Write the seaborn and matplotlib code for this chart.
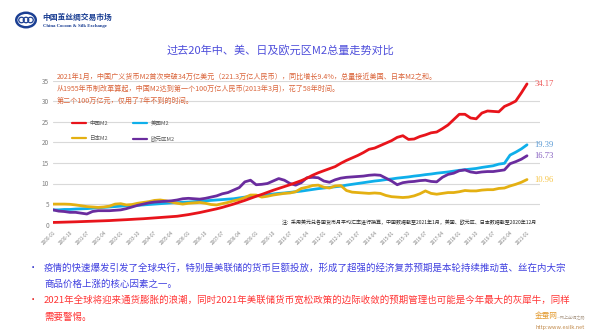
import numpy as np
import pandas as pd
import matplotlib
matplotlib.use("Agg")
import matplotlib.pyplot as plt
import seaborn as sns
from matplotlib.patches import Ellipse
from matplotlib.lines import Line2D

# ---------------- data (trillion USD, quarterly samples) ----------------
dates = pd.date_range("2000-01-01", "2021-01-01", freq="QS")

china_m2 = [0.55, 0.58, 0.62, 0.66, 0.70, 0.75, 0.80, 0.85, 0.90, 0.95,
            1.00, 1.08, 1.15, 1.22, 1.30, 1.38, 1.45, 1.55, 1.65, 1.75,
            1.85, 1.95, 2.05, 2.25, 2.45, 2.70, 2.95, 3.25, 3.55, 3.85,
            4.20, 4.60, 5.00, 5.45, 5.90, 6.40, 6.90, 7.35, 7.85, 8.35,
            8.80, 9.25, 9.70, 10.20, 10.70, 11.30, 12.00, 12.60, 13.10, 13.60,
            14.10, 14.90, 15.60, 16.20, 16.80, 17.50, 18.30, 18.60, 19.20, 19.80,
            20.40, 21.20, 21.60, 20.70, 20.80, 21.40, 21.80, 22.30, 22.50, 23.30,
            24.20, 25.50, 26.80, 26.80, 25.90, 25.70, 27.10, 27.60, 27.50, 27.40,
            28.70, 29.30, 30.00, 32.00, 34.17]

us_m2 = [3.60, 3.60, 3.70, 3.70, 3.80, 3.85, 3.90, 4.00, 4.10, 4.20,
         4.30, 4.40, 4.50, 4.60, 4.65, 4.70, 4.80, 4.90, 5.00, 5.10,
         5.20, 5.30, 5.35, 5.45, 5.50, 5.60, 5.70, 5.80, 5.90, 6.00,
         6.10, 6.20, 6.30, 6.50, 6.70, 6.85, 7.00, 7.15, 7.30, 7.45,
         7.60, 7.70, 7.85, 8.00, 8.15, 8.35, 8.55, 8.75, 8.90, 9.05,
         9.20, 9.35, 9.60, 9.80, 10.00, 10.20, 10.40, 10.60, 10.75, 10.95,
         11.10, 11.30, 11.45, 11.60, 11.80, 11.95, 12.15, 12.30, 12.50, 12.65,
         12.80, 13.00, 13.20, 13.35, 13.50, 13.65, 13.90, 14.10, 14.30, 14.70,
         14.90, 16.90, 17.60, 18.40, 19.39]

japan_m2 = [5.0, 5.0, 5.0, 4.95, 4.8, 4.6, 4.4, 4.3, 4.2, 4.3,
            4.5, 5.0, 5.1, 4.8, 4.9, 5.2, 5.4, 5.6, 5.9, 6.0,
            5.8, 5.5, 5.2, 5.0, 5.2, 5.3, 5.4, 5.2, 4.9, 4.8,
            5.1, 5.4, 5.8, 6.1, 6.6, 7.2, 7.2, 6.7, 6.9, 7.2,
            7.4, 7.6, 7.7, 8.0, 8.8, 9.1, 9.5, 9.6, 9.1, 8.9,
            9.4, 9.5, 8.3, 7.9, 7.8, 7.7, 7.6, 7.7, 7.6, 7.1,
            6.8, 6.7, 6.6, 6.7, 7.0, 7.5, 8.2, 7.6, 7.4, 7.6,
            7.8, 7.8, 8.0, 8.3, 8.2, 8.2, 8.4, 8.5, 8.5, 8.8,
            8.9, 9.4, 9.8, 10.3, 10.96]

euro_m2 = [3.6, 3.3, 3.2, 3.0, 3.0, 2.8, 2.6, 3.2, 3.4, 3.4,
           3.4, 3.5, 3.6, 3.9, 4.3, 4.7, 5.0, 5.3, 5.5, 5.6,
           5.7, 5.8, 6.0, 6.3, 6.4, 6.3, 6.2, 6.4, 6.7, 7.0,
           7.5, 7.8, 8.4, 9.0, 10.4, 10.8, 9.7, 9.8, 10.0, 10.6,
           11.2, 10.8, 10.0, 9.6, 10.2, 11.4, 11.5, 11.4, 10.6, 10.3,
           10.9, 11.3, 11.5, 11.6, 11.7, 11.8, 12.0, 12.1, 12.0, 11.3,
           10.6, 9.7, 10.2, 10.4, 10.5, 10.7, 10.8, 10.5, 10.4, 11.5,
           12.2, 12.5, 13.1, 13.3, 12.8, 12.6, 12.8, 12.9, 12.9, 13.1,
           13.3, 14.8, 15.3, 15.9, 16.73]

series_names = ["中国M2", "美国M2", "日本M2", "欧元区M2"]
end_labels = ["34.17", "19.39", "10.96", "16.73"]
x_tick_labels = ["2000-01", "2000-10", "2001-07", "2002-04", "2003-01", "2003-10",
                 "2004-07", "2005-04", "2006-01", "2006-10", "2007-07", "2008-04",
                 "2009-01", "2009-10", "2010-07", "2011-04", "2012-01", "2012-10",
                 "2013-07", "2014-04", "2015-01", "2015-10", "2016-07", "2017-04",
                 "2018-01", "2018-10", "2019-07", "2020-04", "2021-01"]
y_ticks = [0, 5, 10, 15, 20, 25, 30, 35]

title = "过去20年中、美、日及欧元区M2总量走势对比"
notes = ["2021年1月，中国广义货币M2首次突破34万亿美元（221.3万亿人民币），同比增长9.4%，总量接近美国、日本M2之和。",
         "从1955年币制改革算起，中国M2达到第一个100万亿人民币(2013年3月)，花了58年时间。",
         "第二个100万亿元，仅用了7年不到的时间。"]
footnote = "注：采用美元兑各国货币月平均汇率进行换算，中国数据截至2021年1月，美国、欧元区、日本数据截至2020年12月"
bullet1 = ["疫情的快速爆发引发了全球央行，特别是美联储的货币巨额投放，形成了超强的经济复苏预期是本轮持续推动茧、丝在内大宗",
           "商品价格上涨的核心因素之一。"]
bullet2 = ["2021年全球将迎来通货膨胀的浪潮，同时2021年美联储货币宽松政策的边际收敛的预期管理也可能是今年最大的灰犀牛，同样",
           "需要警惕。"]

# ---------------- style ----------------
sns.set_theme(style="white")
plt.rcParams["font.family"] = ["Noto Sans CJK SC", "DejaVu Sans"]

colors = {"中国M2": "#E8141B", "美国M2": "#0FAFEA", "日本M2": "#E4B012", "欧元区M2": "#6A2C9E"}
label_colors = {"中国M2": "#EE5A5A", "美国M2": "#5B9BD5", "日本M2": "#F7C64A", "欧元区M2": "#8660C0"}

W, H = 600, 336
fig = plt.figure(figsize=(W / 100, H / 100), dpi=100)
fig.patch.set_facecolor("white")


def fx(x):
    return x / W


def fy(y):
    return 1 - y / H


months = (dates.year - 2000) * 12 + dates.month - 1
df = pd.DataFrame({
    "month": np.tile(months, 4),
    "value": china_m2 + us_m2 + japan_m2 + euro_m2,
    "series": np.repeat(series_names, len(months)),
})

ax = fig.add_axes([fx(53), fy(224.7), fx(540) - fx(53), fy(80.5) - fy(224.7)])
draw_order = ["美国M2", "日本M2", "欧元区M2", "中国M2"]
sns.lineplot(data=df, x="month", y="value", hue="series", hue_order=draw_order,
             palette=colors, linewidth=2.0, legend=False, ax=ax)

ax.set_ylim(0, 35)
ax.set_xlim(0, 252 * (540 - 53) / (527 - 53))
ax.set_yticks(y_ticks)
ax.yaxis.grid(True, color="#D9D9D9", linewidth=0.8)
ax.xaxis.grid(False)
ax.set_axisbelow(True)
for s in ax.spines.values():
    s.set_visible(False)
ax.set_xlabel("")
ax.set_ylabel("")
ax.tick_params(axis="y", length=0, pad=3, labelsize=4.6, labelcolor="#808080")

tick_pos = [(int(s[:4]) - 2000) * 12 + int(s[5:]) - 1 for s in x_tick_labels]
ax.set_xticks(tick_pos)
ax.set_xticklabels(x_tick_labels, rotation=45, ha="right", rotation_mode="anchor",
                   fontsize=3.3, color="#808080")
ax.tick_params(axis="x", length=0, pad=4)

# end labels
ends = {"中国M2": china_m2, "美国M2": us_m2, "日本M2": japan_m2, "欧元区M2": euro_m2}
for name, lab in zip(series_names, end_labels):
    ax.annotate(lab, xy=(months[-1], ends[name][-1]), xytext=(5.5, 0),
                textcoords="offset points", ha="left", va="center",
                fontsize=6.2, color=label_colors[name], family="Liberation Serif",
                annotation_clip=False)

# legend
leg_order = ["中国M2", "日本M2", "美国M2", "欧元区M2"]
handles = [Line2D([], [], color=colors[n], lw=1.6) for n in leg_order]
fig.legend(handles, leg_order, ncol=2, loc="upper left",
           bbox_to_anchor=(fx(72), fy(121)), frameon=False, fontsize=4,
           handlelength=2.5, handletextpad=0.6, columnspacing=4.6,
           labelspacing=1.7, borderpad=0, borderaxespad=0, labelcolor="#595959")

# footnote
fig.text(fx(537), fy(222), footnote, ha="right", va="center", fontsize=3.6, color="#262626")

# annotation lines
for i, t in enumerate(notes):
    fig.text(fx(57), fy(77 + 12 * i), t, ha="left", va="center", fontsize=5.1, color="#DA643A")

# title
fig.text(fx(280), fy(50), title, ha="center", va="center", fontsize=8, color="#4F4FDB")

# logo
fig.patches.append(Ellipse((fx(26), fy(20)), 22 / W, 17 / H, transform=fig.transFigure,
                           facecolor="#1B3F93", edgecolor="none"))
fig.patches.append(Ellipse((fx(26), fy(20)), 17 / W, 12 / H, transform=fig.transFigure,
                           facecolor="white", edgecolor="none"))
for cx in (21.5, 26, 30.5):
    fig.patches.append(Ellipse((fx(cx), fy(20)), 5.5 / W, 5.5 / H, transform=fig.transFigure,
                               facecolor="none", edgecolor="#1B3F93", linewidth=0.9))
fig.text(fx(42), fy(17.5), "中国茧丝绸交易市场", ha="left", va="center", fontsize=5.6,
         color="#1B3F93", fontweight="bold")
fig.text(fx(43), fy(25.5), "China Cocoon & Silk Exchange", ha="left", va="center",
         fontsize=3.4, color="#1B3F93", family="Liberation Serif", fontweight="bold")

# bullets
blue_c = "#4040E0"
red_c = "#FF3535"
fig.text(fx(33), fy(268), "•", ha="center", va="center", fontsize=6, color="#1010C0")
fig.text(fx(44), fy(268), bullet1[0], ha="left", va="center", fontsize=6.8, color=blue_c)
fig.text(fx(44), fy(284), bullet1[1], ha="left", va="center", fontsize=6.8, color=blue_c)
fig.text(fx(33), fy(300), "•", ha="center", va="center", fontsize=6, color="#E00000")
fig.text(fx(44), fy(300), bullet2[0], ha="left", va="center", fontsize=6.8, color=red_c)
fig.text(fx(44), fy(317), bullet2[1], ha="left", va="center", fontsize=6.8, color=red_c)

# watermark
fig.text(fx(535), fy(316), "金蚕网", ha="left", va="center", fontsize=5.5, color="#E39A2E")
fig.text(fx(557), fy(317), "—网上丝绸之路", ha="left", va="center", fontsize=3, color="#B0A090")
fig.text(fx(535), fy(328), "http:www.esilk.net", ha="left", va="center", fontsize=4,
         color="#C08848")

fig.savefig("out.png", dpi=100, facecolor="white")
